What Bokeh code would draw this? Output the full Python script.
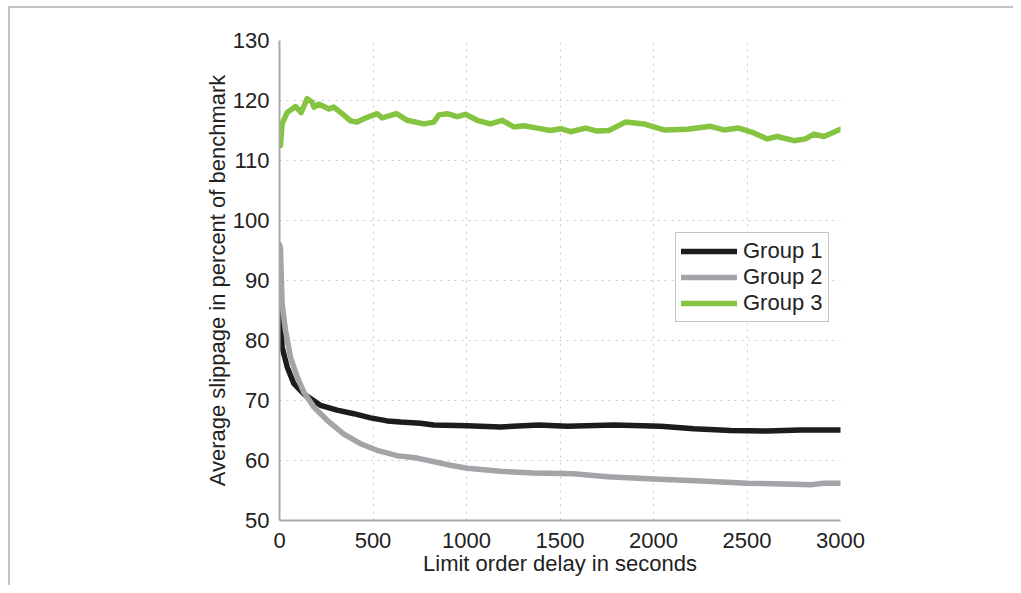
from bokeh.plotting import figure
from bokeh.models import FixedTicker, Legend, LegendItem, Range1d
from bokeh.embed import file_html
from bokeh.resources import INLINE

# ---- data ----
g1_x = [0, 5, 14, 41, 77, 130, 219, 308, 397, 487, 576, 647, 754, 825, 1004, 1182,
        1387, 1539, 1788, 2038, 2216, 2412, 2608, 2786, 3000]
g1_y = [85.5, 84.4, 78.9, 75.6, 72.8, 71.1, 69.2, 68.4, 67.8, 67.1, 66.6, 66.4, 66.2,
        65.9, 65.8, 65.6, 65.9, 65.7, 65.9, 65.7, 65.3, 65.0, 64.9, 65.1, 65.1]

g2_x = [0, 5, 14, 32, 59, 95, 130, 184, 255, 344, 433, 522, 629, 736, 914, 1004, 1182,
        1360, 1574, 1753, 2002, 2252, 2501, 2751, 2840, 2911, 3000]
g2_y = [96.0, 95.3, 86.1, 81.7, 77.2, 73.9, 71.4, 68.9, 66.7, 64.4, 62.8, 61.7, 60.8,
        60.4, 59.2, 58.7, 58.2, 57.9, 57.8, 57.3, 56.9, 56.6, 56.2, 56.05, 55.95, 56.2, 56.2]

g3_x = [5, 14, 41, 86, 116, 148, 175, 184, 210, 264, 290, 335, 380, 415, 469, 522, 549,
        626, 683, 772, 825, 852, 897, 950, 995, 1057, 1128, 1191, 1253, 1307, 1378, 1449,
        1503, 1556, 1637, 1699, 1761, 1850, 1948, 2055, 2180, 2305, 2376, 2456, 2537,
        2608, 2662, 2751, 2813, 2858, 2911, 3000]
g3_y = [112.5, 116.1, 118.0, 119.0, 118.0, 120.3, 119.7, 118.9, 119.4, 118.6, 118.9,
        117.8, 116.6, 116.4, 117.2, 117.8, 117.1, 117.8, 116.7, 116.1, 116.4, 117.6,
        117.8, 117.3, 117.7, 116.7, 116.1, 116.7, 115.6, 115.8, 115.4, 115.0, 115.3,
        114.8, 115.4, 114.9, 115.0, 116.4, 116.1, 115.1, 115.2, 115.7, 115.1, 115.4,
        114.6, 113.6, 114.0, 113.3, 113.6, 114.4, 114.0, 115.2]

series_names = ["Group 1", "Group 2", "Group 3"]
series_colors = ["#1c1c1c", "#a4a4a8", "#84c441"]

x_ticks = [0, 500, 1000, 1500, 2000, 2500, 3000]
y_ticks = [50, 60, 70, 80, 90, 100, 110, 120, 130]

FONT = "Liberation Sans"
FS = "22px"

p = figure(width=1013, height=585, frame_width=561, frame_height=480,
           min_border_left=279, min_border_right=173, min_border_top=40,
           min_border_bottom=65,
           x_range=Range1d(0, 3000), y_range=Range1d(50, 130),
           output_backend="svg", toolbar_location=None,
           styles={"background-color": "white",
                   "box-shadow": "inset 8px 6px 0 0 white, inset 10px 8px 0 0 #c4c4c4"})

p.outline_line_color = None
p.background_fill_color = "white"
p.border_fill_alpha = 0.0

for ax in (p.xaxis[0], p.yaxis[0]):
    ax.axis_line_color = "#a8a8a8"
    ax.axis_line_width = 2
    ax.major_tick_line_color = None
    ax.minor_tick_line_color = None
    ax.major_label_text_font = FONT
    ax.major_label_text_font_size = FS
    ax.major_label_text_color = "#222222"
    ax.axis_label_text_font = FONT
    ax.axis_label_text_font_size = FS
    ax.axis_label_text_font_style = "normal"
    ax.axis_label_text_color = "#222222"

p.xaxis.ticker = FixedTicker(ticks=x_ticks)
p.yaxis.ticker = FixedTicker(ticks=y_ticks)
p.xaxis.major_label_standoff = 6
p.yaxis.major_label_standoff = 4
p.xaxis.axis_label = "Limit order delay in seconds"
p.yaxis.axis_label = "Average slippage in percent of benchmark"
p.xaxis.axis_label_standoff = 0
p.yaxis.axis_label_standoff = 0

p.xgrid.ticker = FixedTicker(ticks=x_ticks[1:-1])
p.ygrid.ticker = FixedTicker(ticks=y_ticks[1:-1])
for g in (p.xgrid[0], p.ygrid[0]):
    g.grid_line_color = "#c8c8c8"
    g.grid_line_dash = "2 5"
    g.grid_line_width = 1

renderers = []
for xs, ys, c in zip([g1_x, g2_x, g3_x], [g1_y, g2_y, g3_y], series_colors):
    r = p.line(xs, ys, line_color=c, line_width=5.5, line_join="round", line_cap="round")
    renderers.append(r)

legend = Legend(items=[LegendItem(label=n, renderers=[r]) for n, r in zip(series_names, renderers)],
                location=(396, 198))
legend.label_text_font = FONT
legend.label_text_font_size = FS
legend.label_text_color = "#222222"
legend.glyph_width = 56
legend.glyph_height = 24
legend.label_height = 24
legend.label_standoff = 6
legend.spacing = 0
legend.padding = 5
legend.margin = 0
legend.border_line_color = "#8a8a8a"
legend.border_line_width = 1
legend.background_fill_color = "white"
legend.background_fill_alpha = 1.0
p.add_layout(legend, "center")

open("out.html", "w").write(file_html(p, INLINE))
